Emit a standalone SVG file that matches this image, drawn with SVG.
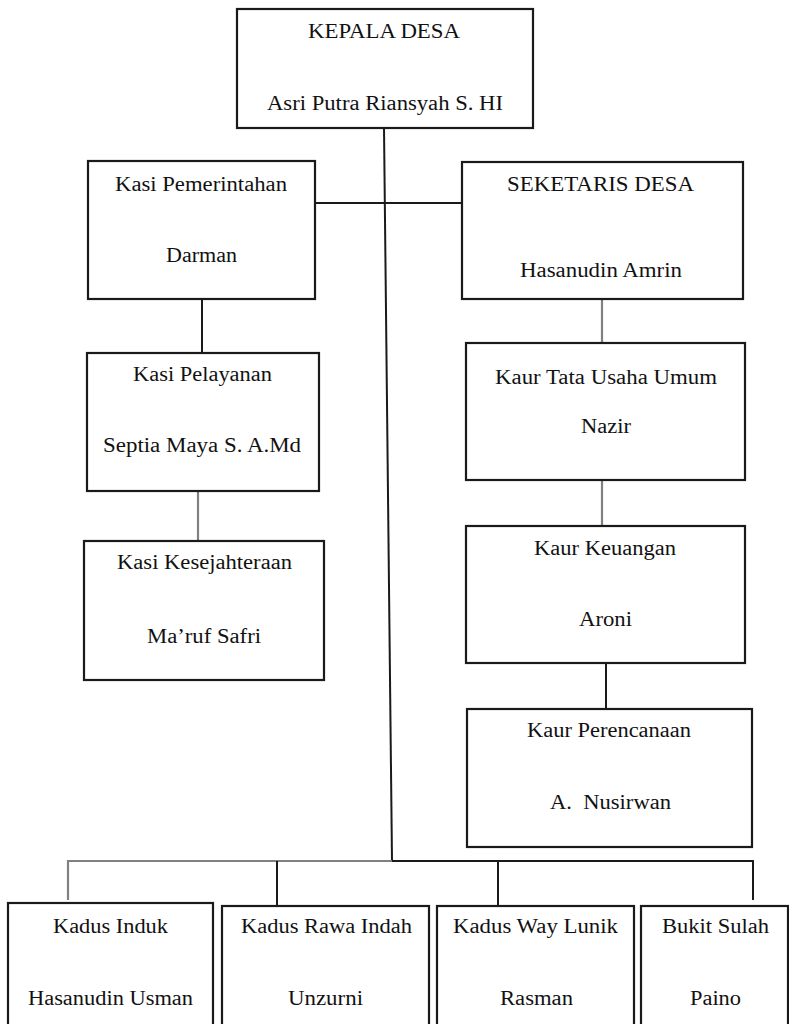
<svg xmlns="http://www.w3.org/2000/svg" width="789" height="1024" viewBox="0 0 789 1024">
<style>
.box{fill:#fff;stroke:#1a1a1a;stroke-width:2.2}
.t{font-family:'Liberation Serif','Times New Roman','DejaVu Serif',serif;font-size:20.5px;fill:#111;text-anchor:middle}
.c{stroke:#1a1a1a;stroke-width:2;fill:none}
.g{stroke:#808080;stroke-width:2.2;fill:none}
</style>
<rect width="789" height="1024" fill="#fff"/>
<g id="connectors">
<line class="c" x1="384" y1="128" x2="392" y2="861"/>
<line class="c" x1="315" y1="203" x2="462" y2="203"/>
<line class="c" x1="202" y1="299" x2="202" y2="353"/>
<line class="g" x1="198" y1="491" x2="198" y2="541"/>
<line class="g" x1="602" y1="299" x2="602" y2="343"/>
<line class="g" x1="602" y1="480" x2="602" y2="526"/>
<line class="c" x1="606" y1="663" x2="606" y2="709"/>
<polyline class="g" points="68,900 68,861 392,861"/>
<polyline class="c" points="392,861 753,861 753,900"/>
<line class="c" x1="277" y1="861" x2="277" y2="906"/>
<line class="c" x1="498" y1="861" x2="498" y2="906"/>
</g>
<g id="kepala-desa">
<rect class="box" x="237" y="9" width="296" height="119"/>
<text class="t" x="384" y="38" textLength="152" lengthAdjust="spacingAndGlyphs">KEPALA DESA</text>
<text class="t" x="385" y="110" textLength="236" lengthAdjust="spacingAndGlyphs">Asri Putra Riansyah S. HI</text>
</g>
<g id="kasi-pemerintahan">
<rect class="box" x="88" y="161" width="227" height="138"/>
<text class="t" x="201" y="191" textLength="172" lengthAdjust="spacingAndGlyphs">Kasi Pemerintahan</text>
<text class="t" x="201.5" y="262" textLength="71" lengthAdjust="spacingAndGlyphs">Darman</text>
</g>
<g id="seketaris-desa">
<rect class="box" x="462" y="162" width="281" height="137"/>
<text class="t" x="600.5" y="191" textLength="187" lengthAdjust="spacingAndGlyphs">SEKETARIS DESA</text>
<text class="t" x="601" y="277" textLength="162" lengthAdjust="spacingAndGlyphs">Hasanudin Amrin</text>
</g>
<g id="kasi-pelayanan">
<rect class="box" x="87" y="353" width="232" height="138"/>
<text class="t" x="202.5" y="381" textLength="139" lengthAdjust="spacingAndGlyphs">Kasi Pelayanan</text>
<text class="t" x="202" y="452" textLength="198" lengthAdjust="spacingAndGlyphs">Septia Maya S. A.Md</text>
</g>
<g id="kasi-kesejahteraan">
<rect class="box" x="84" y="541" width="240" height="139"/>
<text class="t" x="204.5" y="569" textLength="175" lengthAdjust="spacingAndGlyphs">Kasi Kesejahteraan</text>
<text class="t" x="204" y="643" textLength="114" lengthAdjust="spacingAndGlyphs">Ma’ruf Safri</text>
</g>
<g id="kaur-tata-usaha">
<rect class="box" x="466" y="343" width="279" height="137"/>
<text class="t" x="606" y="384" textLength="222" lengthAdjust="spacingAndGlyphs">Kaur Tata Usaha Umum</text>
<text class="t" x="606" y="433" textLength="50" lengthAdjust="spacingAndGlyphs">Nazir</text>
</g>
<g id="kaur-keuangan">
<rect class="box" x="466" y="526" width="279" height="137"/>
<text class="t" x="605" y="555" textLength="142" lengthAdjust="spacingAndGlyphs">Kaur Keuangan</text>
<text class="t" x="605.5" y="626" textLength="53" lengthAdjust="spacingAndGlyphs">Aroni</text>
</g>
<g id="kaur-perencanaan">
<rect class="box" x="467" y="709" width="285" height="138"/>
<text class="t" x="609" y="737" textLength="164" lengthAdjust="spacingAndGlyphs">Kaur Perencanaan</text>
<text class="t" x="610.5" y="809" textLength="121" lengthAdjust="spacingAndGlyphs" xml:space="preserve">A.  Nusirwan</text>
</g>
<g id="kadus-induk">
<rect class="box" x="8" y="903" width="205" height="130"/>
<text class="t" x="110.5" y="933" textLength="115" lengthAdjust="spacingAndGlyphs">Kadus Induk</text>
<text class="t" x="110.5" y="1005" textLength="165" lengthAdjust="spacingAndGlyphs">Hasanudin Usman</text>
</g>
<g id="kadus-rawa-indah">
<rect class="box" x="222" y="906" width="207" height="130"/>
<text class="t" x="326.5" y="933" textLength="171" lengthAdjust="spacingAndGlyphs">Kadus Rawa Indah</text>
<text class="t" x="325.5" y="1005" textLength="75" lengthAdjust="spacingAndGlyphs">Unzurni</text>
</g>
<g id="kadus-way-lunik">
<rect class="box" x="437" y="906" width="197" height="130"/>
<text class="t" x="535.5" y="933" textLength="165" lengthAdjust="spacingAndGlyphs">Kadus Way Lunik</text>
<text class="t" x="536.5" y="1005" textLength="73" lengthAdjust="spacingAndGlyphs">Rasman</text>
</g>
<g id="bukit-sulah">
<rect class="box" x="641" y="906" width="147" height="130"/>
<text class="t" x="715.5" y="933" textLength="107" lengthAdjust="spacingAndGlyphs">Bukit Sulah</text>
<text class="t" x="715.5" y="1005" textLength="51" lengthAdjust="spacingAndGlyphs">Paino</text>
</g>
</svg>
